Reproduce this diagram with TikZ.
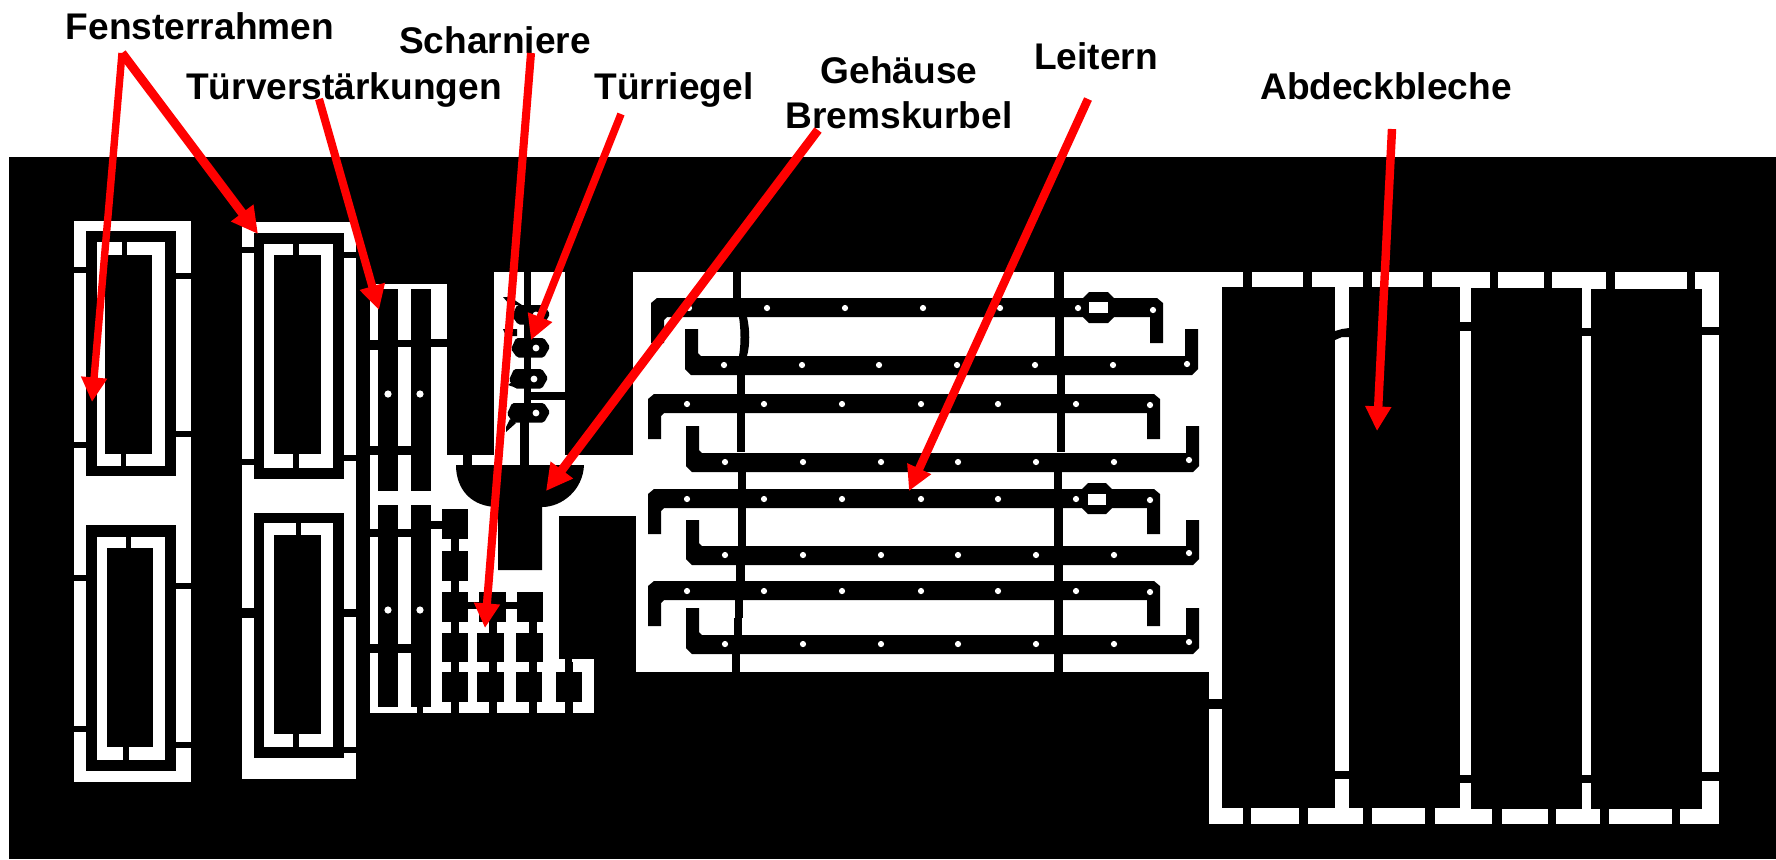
\documentclass[tikz,border=0pt]{standalone}
\usepackage{fontspec}
\setmainfont{Liberation Sans}
\usetikzlibrary{arrows.meta}
\tikzset{
  void/.style={fill=black},
  sheet/.style={fill=white},
  hole/.style={fill=white},
  leader/.style={draw=red,line width=2.3pt,line cap=butt,-{Triangle[length=7pt,width=7pt]}},
  heavy leader/.style={leader,line width=2.55pt,-{Triangle[length=7.5pt,width=7.5pt]}},
  caption/.style={inner sep=0pt,anchor=base,text=black,font=\fontsize{10.55}{12}\selectfont\bfseries}
}
\newcommand{\sh}[4]{\fill[sheet] (#1,#2) rectangle (#3,#4);}
\newcommand{\vd}[4]{\fill[void] (#1,#2) rectangle (#3,#4);}
% ladder, hook pointing down: xl xr ytop yhook
\newcommand{\ladderdown}[4]{\fill[void] (#1,#4) -- (#1,#3+5) -- (#1+6,#3) -- (#2-6,#3) -- (#2,#3+5) -- (#2,#4) -- (#2-13,#4) -- (#2-13,#3+19) -- (#1+16,#3+19) -- (#1+13,#3+22) -- (#1+13,#4) -- cycle;}
% ladder, hook pointing up: xl xr ybottom yhook
\newcommand{\ladderup}[4]{\fill[void] (#1,#4) -- (#1,#3-6) -- (#1+6,#3) -- (#2-6,#3) -- (#2,#3-6) -- (#2,#4) -- (#2-13,#4) -- (#2-13,#3-19) -- (#1+16,#3-19) -- (#1+13,#3-22) -- (#1+13,#4) -- cycle;}
\newcommand{\frameparts}[8]{\vd{#1}{#3}{#2}{#4}\sh{#5}{#7}{#6}{#8}}
\newcommand{\latch}[3]{\fill[void,rounded corners=0.5pt] (#1-#3+5,#2-10) -- (#1+8,#2-10) -- (#1+14,#2-1) -- (#1+8,#2+9.5) -- (#1-#3+6,#2+9.5) -- (#1-#3,#2+1) -- cycle; \fill[hole] (#1,#2) circle[radius=3.4];}
\newcommand{\octa}[4]{\fill[void] (#1+6,#3) -- (#2-6,#3) -- (#2,#3+6) -- (#2,#4-6) -- (#2-6,#4) -- (#1+6,#4) -- (#1,#4-6) -- (#1,#3+6) -- cycle;}
\begin{document}
\begin{tikzpicture}[x=0.01cm,y=-0.01cm]
\useasboundingbox (0,0) rectangle (1776,859);
\fill[white] (0,0) rectangle (1776,859);
\fill[void] (9,157) rectangle (1776,859);

% ---- white stock
\sh{74}{221}{191}{782}
\sh{242}{222}{356}{779}
\sh{370}{284}{447}{713}
\sh{494}{272}{565}{455}
\sh{447}{455}{640}{516}
\sh{447}{516}{559}{713}
\sh{559}{659}{565}{713}
\sh{572}{659}{594}{713}
\sh{633}{272}{1222}{516}
\sh{636}{516}{1222}{672}
\sh{1209}{272}{1719}{824}

% ---- window frames, column 1
\frameparts{86}{176}{231}{476}{97}{165}{242}{466}
\vd{105}{255}{152}{454}
\vd{122}{242}{127}{255}
\vd{121}{454}{126}{466}
\vd{74}{267}{86}{273}
\vd{74}{442}{86}{448}
\vd{176}{273}{191}{279}
\vd{176}{431}{191}{437}
\frameparts{86}{176}{525}{771}{97}{165}{537}{760}
\vd{107}{548}{153}{747}
\vd{126}{537}{131}{548}
\vd{123}{747}{129}{760}
\vd{74}{575}{86}{581}
\vd{74}{726}{86}{732}
\vd{176}{583}{191}{589}
\vd{176}{742}{191}{748}

% ---- window frames, column 2
\frameparts{254}{344}{233}{479}{264}{333}{244}{468}
\vd{274}{255}{321}{454}
\vd{293}{244}{299}{255}
\vd{293}{454}{299}{468}
\vd{242}{247}{254}{253}
\vd{242}{459}{254}{465}
\vd{344}{252}{356}{258}
\vd{344}{455}{356}{461}
\frameparts{254}{344}{513}{758}{264}{333}{523}{747}
\vd{274}{535}{321}{734}
\vd{296}{523}{301}{535}
\vd{293}{734}{299}{747}
\vd{242}{608}{254}{618}
\vd{344}{609}{356}{617}
\vd{344}{747}{356}{753}

% ---- door reinforcements
\vd{378}{289}{398}{491}
\vd{411}{289}{431}{491}
\vd{378}{505}{398}{707}
\vd{411}{505}{431}{707}
\vd{370}{340}{378}{350}
\vd{398}{340}{411}{347}
\vd{431}{339}{447}{347}
\vd{370}{446}{378}{455}
\vd{398}{446}{411}{455}
\vd{370}{529}{378}{537}
\vd{398}{529}{411}{537}
\vd{431}{521}{442}{529}
\vd{370}{644}{378}{653}
\vd{398}{644}{411}{653}
\vd{417}{707}{423}{713}
\foreach \px/\py in {388/394,420/394,388/610,420/610}
  \fill[hole] (\px,\py) circle[radius=3.6];

% ---- hinges
\vd{442}{509}{468}{539}
\vd{451}{539}{459}{551}
\vd{442}{551}{468}{581}
\vd{451}{581}{459}{592}
\vd{442}{592}{468}{622}
\vd{479}{592}{506}{622}
\vd{517}{592}{543}{622}
\vd{468}{602}{517}{609}
\vd{442}{633}{468}{662}
\vd{477}{633}{504}{662}
\vd{516}{633}{543}{662}
\vd{442}{672}{468}{702}
\vd{477}{672}{504}{702}
\vd{516}{672}{542}{702}
\vd{556}{672}{582}{702}
\foreach \nx/\ny in {451/622,489/622,529/622,451/662,489/662,529/662,565/662,451/702,489/702,529/702,565/702}
  \fill[void] (\nx,\ny) rectangle (\nx+8,\ny+11);

% ---- crank housing
\fill[void] (456,465) .. controls (456,490) and (472,507) .. (498,507) -- (498,570) -- (542,570) -- (542,507) .. controls (562,507) and (583,490) .. (584,465) -- cycle;
\vd{463}{455}{472}{465}
\vd{524}{272}{531}{422}
\vd{520}{422}{529}{465}

% ---- door bolts
\vd{531}{392}{565}{400}
\fill[void] (503,297) -- (510,297) -- (522,305) -- (510,305) -- cycle;
\fill[void] (503,329) -- (517,329) -- (517,336) -- (506,336) -- cycle;
\fill[void] (508,385) -- (517,378) -- (517,388) -- cycle;
\fill[void] (506,432) -- (516,423) -- (510,419) -- (506,427) -- cycle;
\latch{536}{315}{24}
\latch{536}{348}{25}
\latch{534}{379}{25}
\latch{536}{413}{29}

% ---- ladder panel, vertical strips
\vd{733}{272}{741}{298}
\fill[void] (739,317) .. controls (741,330) and (741,345) .. (739,356) -- (747,356) .. controls (750,345) and (750,330) .. (747,317) -- cycle;
\vd{737}{375}{745}{394}
\vd{737}{413}{745}{452}
\vd{738}{472}{746}{489}
\vd{738}{508}{746}{546}
\vd{736}{565}{745}{581}
\vd{735}{600}{743}{618}
\vd{734}{618}{742}{635}
\vd{732}{654}{740}{672}
\vd{1054}{272}{1064}{298}
\vd{1055}{317}{1064}{356}
\vd{1057}{375}{1065}{394}
\vd{1057}{413}{1065}{452}
\vd{1054}{472}{1062}{489}
\vd{1054}{508}{1063}{546}
\vd{1054}{565}{1063}{581}
\vd{1054}{600}{1063}{635}
\vd{1054}{654}{1063}{672}

% ---- ladders
\ladderdown{651}{1163}{298}{343}
\octa{1083}{1114}{292}{323}
\fill[hole] (1089,302) rectangle (1108,313);
\ladderup{685}{1198}{375}{329}
\ladderdown{648}{1160}{394}{439}
\ladderup{686}{1199}{472}{426}
\ladderdown{648}{1160}{489}{534}
\octa{1082}{1112}{483}{514}
\fill[hole] (1088,494) rectangle (1106,505);
\ladderup{686}{1199}{565}{520}
\ladderdown{648}{1160}{581}{626}
\ladderup{686}{1199}{654}{608}

\foreach \hx/\hy in {689/308,767/308,845/308,923/308,1000/308,1078/308,1153/310,
  724/365,802/365,879/365,957/365,1035/365,1113/365,1187/364,
  687/404,764/404,842/404,921/404,998/404,1076/404,1150/405,
  725/462,803/462,881/462,958/462,1036/462,1114/462,1189/460,
  687/499,764/499,842/499,921/499,998/499,1076/499,1150/500,
  725/555,803/555,881/555,958/555,1036/555,1114/555,1189/553,
  687/591,764/591,842/591,921/591,998/591,1076/591,1150/592,
  725/644,803/644,881/644,958/644,1036/644,1114/644,1189/642}
  \fill[hole] (\hx,\hy) circle[radius=3.1];

% ---- cover plates
\vd{1222}{287}{1335}{808}
\vd{1349}{287}{1460}{808}
\vd{1471}{288}{1582}{809}
\vd{1591}{289}{1702}{809}
\foreach \gx/\gw in {1243/9,1303/9,1363/9,1423/9,1490/8,1544/8,1606/9,1687/8}
  \fill[void] (\gx,272) rectangle (\gx+\gw,289);
\foreach \gx/\gw in {1243/8,1299/9,1363/9,1425/10,1492/10,1548/8,1600/9,1672/8}
  \fill[void] (\gx,806) rectangle (\gx+\gw,824);
\fill[void] (1335,331) -- (1342,329) -- (1349,328) -- (1349,337) -- (1342,337) -- (1335,340) -- cycle;
\vd{1460}{322}{1471}{331}
\vd{1582}{328}{1591}{336}
\vd{1702}{327}{1719}{335}
\vd{1335}{771}{1349}{779}
\vd{1460}{775}{1471}{783}
\vd{1582}{775}{1591}{783}
\vd{1702}{772}{1719}{781}
\vd{1209}{699}{1222}{709}

% ---- captions
\node[caption] (fenster) at (200,39) {Fensterrahmen};
\node[caption] (scharnier) at (495,53) {Scharniere};
\node[caption] (tuerverst) at (344,99) {Türverstärkungen};
\node[caption] (riegel) at (674,99) {Türriegel};
\node[caption] (gehaeuse) at (899,83) {Gehäuse};
\node[caption] (kurbel) at (899,128) {Bremskurbel};
\node[caption] (leitern) at (1096,69) {Leitern};
\node[caption] (bleche) at (1386,99) {Abdeckbleche};

% ---- leaders
\coordinate (fensterFoot) at (122,53);
\coordinate (scharnierFoot) at (531,53);
\coordinate (tuerverstFoot) at (319,99);
\coordinate (riegelFoot) at (621,114);
\coordinate (kurbelFoot) at (818,130);
\coordinate (leiternFoot) at (1088,99);
\coordinate (blecheFoot) at (1392,129);
\coordinate (frameA) at (92,402);
\coordinate (frameB) at (258,234);
\coordinate (reinforce) at (379,310);
\coordinate (hinge) at (485,628);
\coordinate (bolt) at (531,340);
\coordinate (housing) at (546,491);
\coordinate (ladder) at (909,491);
\coordinate (plate) at (1377,431);
\draw[leader,line width=2.1pt] (fensterFoot) -- (frameA);
\draw[heavy leader] (fensterFoot) -- (frameB);
\draw[leader] (tuerverstFoot) -- (reinforce);
\draw[leader] (scharnierFoot) -- (hinge);
\draw[leader,line width=2.15pt] (riegelFoot) -- (bolt);
\draw[heavy leader] (kurbelFoot) -- (housing);
\draw[leader,line width=2.4pt] (leiternFoot) -- (ladder);
\draw[leader,line width=2.4pt] (blecheFoot) -- (plate);
\end{tikzpicture}
\end{document}
